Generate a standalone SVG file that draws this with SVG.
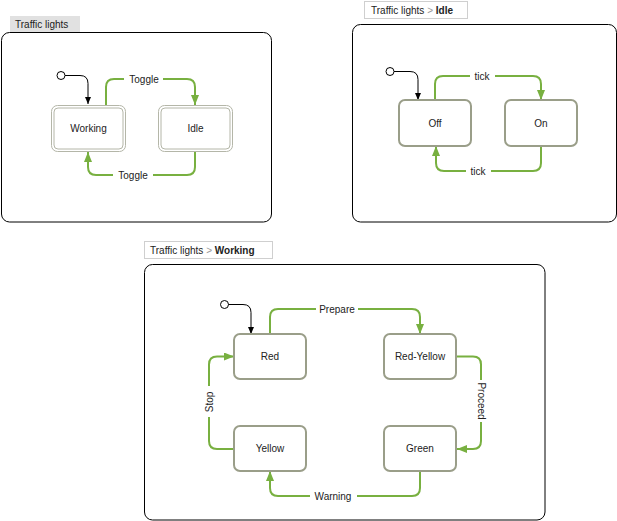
<svg xmlns="http://www.w3.org/2000/svg" width="617" height="521" viewBox="0 0 617 521">
<style>
text{font-family:"Liberation Sans",Arial,sans-serif;font-size:10px;fill:#222}
.panel{fill:#fff;stroke:#000;stroke-width:1}
.tab{fill:#fff;stroke:#cfcfcf;stroke-width:1}
.tabg{fill:#e1e1e1;stroke:none}
.st{fill:#fff;stroke:#9a9e89;stroke-width:2}
.dbl{fill:#fff;stroke:#b4b6a8;stroke-width:1}
.tr{fill:none;stroke:#78b040;stroke-width:2;marker-end:url(#ga)}
.ini{fill:none;stroke:#000;stroke-width:1;marker-end:url(#ba)}
.dot{fill:#fff;stroke:#000;stroke-width:1}
.lb{fill:#fff;stroke:none}
.sep{fill:#999}
.b{font-weight:bold}
.c{text-anchor:middle}
</style>
<defs>
<marker id="ga" markerUnits="userSpaceOnUse" markerWidth="10" markerHeight="8" refX="10" refY="4" orient="auto"><path d="M0,0 L10,4 L0,8 Z" fill="#78b040"/></marker>
<marker id="ba" markerUnits="userSpaceOnUse" markerWidth="7" markerHeight="6" refX="7" refY="3" orient="auto"><path d="M0,0 L7,3 L0,6 Z" fill="#000"/></marker>
</defs>

<g id="panel-traffic-lights">
<rect class="tabg" x="10" y="16" width="70" height="16"/>
<text x="15" y="28">Traffic lights</text>
<rect class="panel" x="1.5" y="32.5" width="270" height="189.5" rx="8"/>
</g>
<g id="panel-idle">
<rect class="tab" x="364.5" y="1.5" width="103" height="17"/>
<text x="371" y="14">Traffic lights <tspan class="sep">&gt;</tspan> <tspan class="b">Idle</tspan></text>
<rect class="panel" x="352.5" y="24.5" width="264" height="197.5" rx="8"/>
</g>
<g id="panel-working">
<rect class="tab" x="144.5" y="241.5" width="128" height="17"/>
<text x="150" y="254">Traffic lights <tspan class="sep">&gt;</tspan> <tspan class="b">Working</tspan></text>
<rect class="panel" x="144.5" y="264.5" width="400.5" height="255.5" rx="8"/>
</g>

<g id="connectors">
<circle class="dot" cx="61" cy="75.5" r="4"/>
<path class="ini" d="M65,75.5 H80 Q88,75.5 88,83.5 V104"/>
<path class="tr" d="M106,105 V87 Q106,79 114,79 H187 Q195,79 195,87 V105"/>
<rect class="lb" x="124" y="72" width="39" height="14"/>
<text class="c" x="144" y="82.5">Toggle</text>
<path class="tr" d="M195,152 V167 Q195,175 187,175 H96 Q88,175 88,167 V152"/>
<rect class="lb" x="113" y="168" width="40" height="14"/>
<text class="c" x="133" y="178.5">Toggle</text>

<circle class="dot" cx="390" cy="71.5" r="4"/>
<path class="ini" d="M394,71.5 H410 Q418,71.5 418,79.5 V100"/>
<path class="tr" d="M435,100 V84 Q435,76 443,76 H533 Q541,76 541,84 V100"/>
<rect class="lb" x="470" y="69" width="25" height="14"/>
<text class="c" x="482" y="79.5">tick</text>
<path class="tr" d="M541,146 V163 Q541,171 533,171 H444 Q436,171 436,163 V146"/>
<rect class="lb" x="466" y="164" width="25" height="14"/>
<text class="c" x="478" y="174.5">tick</text>

<circle class="dot" cx="224.5" cy="304.5" r="4"/>
<path class="ini" d="M228.5,304.5 H243 Q251,304.5 251,312.5 V334"/>
<path class="tr" d="M270,334 V317 Q270,309 278,309 H412 Q420,309 420,317 V334"/>
<rect class="lb" x="316" y="302" width="42" height="14"/>
<text class="c" x="337" y="312.5">Prepare</text>
<path class="tr" d="M456,356.5 H473 Q481,356.5 481,364.5 V441 Q481,449 473,449 H457"/>
<rect class="lb" x="474" y="380" width="14" height="42"/>
<text class="c" transform="translate(477.5,401) rotate(90)">Proceed</text>
<path class="tr" d="M234,449 H217 Q209,449 209,441 V364.5 Q209,356.5 217,356.5 H234"/>
<rect class="lb" x="202" y="386" width="14" height="31"/>
<text class="c" transform="translate(212.5,402) rotate(-90)">Stop</text>
<path class="tr" d="M420,471 V488 Q420,496 412,496 H278 Q270,496 270,488 V471"/>
<rect class="lb" x="310" y="489" width="47" height="14"/>
<text class="c" x="333" y="499.5">Warning</text>
</g>

<g id="node-working">
<rect class="dbl" x="51.5" y="105.5" width="74" height="46" rx="6"/>
<rect class="dbl" x="54" y="108" width="69" height="41" rx="4"/>
<text class="c" x="88.5" y="132">Working</text>
</g>
<g id="node-idle">
<rect class="dbl" x="158.5" y="105.5" width="74" height="46" rx="6"/>
<rect class="dbl" x="161" y="108" width="69" height="41" rx="4"/>
<text class="c" x="195.5" y="132">Idle</text>
</g>
<g id="node-off">
<rect class="st" x="399" y="100" width="72" height="46" rx="6"/>
<text class="c" x="435" y="126.5">Off</text>
</g>
<g id="node-on">
<rect class="st" x="505" y="100" width="72" height="46" rx="6"/>
<text class="c" x="541" y="126.5">On</text>
</g>
<g id="node-red">
<rect class="st" x="234" y="334" width="72" height="45" rx="6"/>
<text class="c" x="270" y="360">Red</text>
</g>
<g id="node-red-yellow">
<rect class="st" x="384" y="334" width="72" height="45" rx="6"/>
<text class="c" x="420" y="360">Red-Yellow</text>
</g>
<g id="node-yellow">
<rect class="st" x="234" y="426" width="72" height="45" rx="6"/>
<text class="c" x="270" y="452">Yellow</text>
</g>
<g id="node-green">
<rect class="st" x="384" y="426" width="72" height="45" rx="6"/>
<text class="c" x="420" y="452">Green</text>
</g>
</svg>
